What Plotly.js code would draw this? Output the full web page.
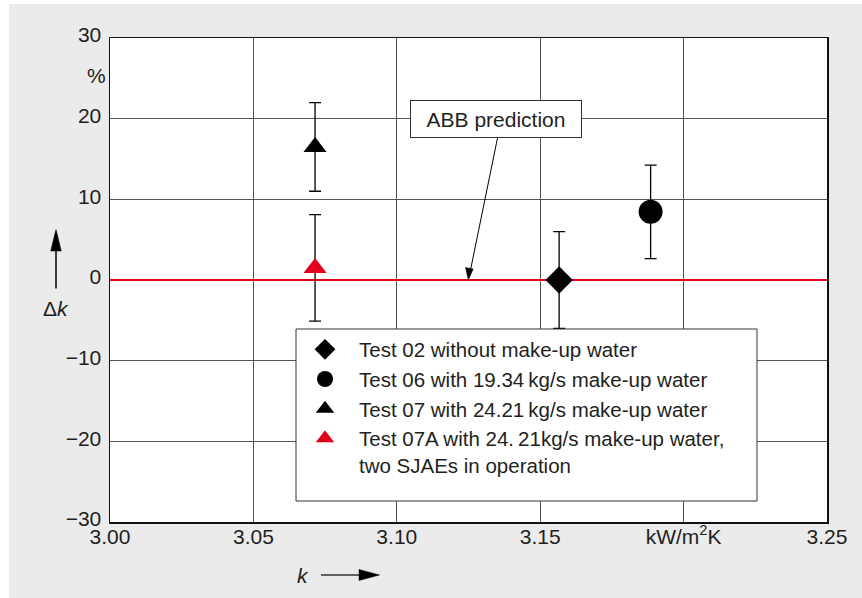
<!DOCTYPE html>
<html>
<head>
<meta charset="utf-8">
<script src="https://cdn.plot.ly/plotly-3.0.1.min.js"></script>
<style>
  html, body { margin: 0; padding: 0; background: #ffffff; }
  #chart { position: absolute; left: 9px; top: 4px; width: 853px; height: 594px; }
</style>
</head>
<body>
<div id="chart"></div>
<script>
// ---- data ----
const seriesNames = [
  'Test 02 without make-up water',
  'Test 06 with 19.34\u2009kg/s make-up water',
  'Test 07 with 24.21\u2009kg/s make-up water',
  'Test 07A with 24.\u200921kg/s make-up water,<br>two SJAEs in operation'
];
const kValues = [3.1566, 3.1885, 3.0715, 3.0715];      // kW/m2K
const dkValues = [0.0, 8.45, 16.5, 1.5];               // %
const dkErrors = [6.0, 5.8, 5.5, 6.6];                 // %
const predictionK = [3.00, 3.25];                      // ABB prediction line extent
const predictionDk = [0, 0];                           // ABB prediction
const xTickVals = [3.00, 3.05, 3.10, 3.15, 3.20, 3.25];
const xTickLabels = ['3.00', '3.05', '3.10', '3.15', 'kW/m<sup>2</sup>K', '3.25'];
const yTickVals = [-30, -20, -10, 0, 10, 20, 30];
const yTickLabels = ['\u221230', '\u221220', '\u221210', '0', '10', '20', '30'];

// ---- styles ----
const RED = '#e2001a';
const markerSymbols = ['diamond', 'circle', 'triangle-up', 'triangle-up'];
const markerColors = ['#000000', '#000000', '#000000', RED];
const markerSizes = [21, 24, 20, 20];
const FONT = '"Liberation Sans", Arial, Helvetica, sans-serif';
const FS = 21;
const LFS = 20.5;
const TXT = '#231f20';

// plot area in page pixels: x 110..827, y 38..522
const PL = 110, PR = 827, PT = 38, PB = 522;
const px = x => (x - PL) / (PR - PL);
const py = y => (PB - y) / (PB - PT);
const P = (x, y) => px(x).toFixed(5) + ',' + py(y).toFixed(5);

const predictionTrace = {
  type: 'scatter', mode: 'lines', name: 'ABB prediction', showlegend: false, hoverinfo: 'skip',
  x: predictionK, y: predictionDk, line: { color: RED, width: 2.2 }, cliponaxis: false
};

const traces = [predictionTrace].concat(seriesNames.map((name, i) => ({
  type: 'scatter',
  mode: 'markers',
  name: name,
  x: [kValues[i]],
  y: [dkValues[i]],
  error_y: { type: 'data', array: [dkErrors[i]], visible: true, color: '#000000', thickness: 1.3, width: 6 },
  marker: { symbol: markerSymbols[i], color: markerColors[i], size: markerSizes[i], line: { width: 0 } },
  cliponaxis: false
})));

const shapes = [
  // legend box
  { type: 'rect', xref: 'paper', yref: 'paper', x0: px(296), x1: px(757), y0: py(501), y1: py(329),
    fillcolor: '#ffffff', line: { color: '#333333', width: 1 }, layer: 'above' },
  // ABB arrow shaft
  { type: 'path', xref: 'paper', yref: 'paper', layer: 'above',
    path: 'M' + P(497.5, 138) + ' L' + P(470.5, 270), line: { color: '#000', width: 1 } },
  // ABB arrow head
  { type: 'path', xref: 'paper', yref: 'paper', layer: 'above',
    path: 'M' + P(468.3, 280) + ' L' + P(465.5, 267.5) + ' L' + P(473.2, 269) + ' Z',
    fillcolor: '#000', line: { color: '#000', width: 0.5 } },
  // up arrow (Δk)
  { type: 'path', xref: 'paper', yref: 'paper', layer: 'above',
    path: 'M' + P(56, 288.5) + ' L' + P(56, 248), line: { color: '#000', width: 1.5 } },
  { type: 'path', xref: 'paper', yref: 'paper', layer: 'above',
    path: 'M' + P(56, 229.5) + ' L' + P(50.7, 251) + ' L' + P(61.3, 251) + ' Z',
    fillcolor: '#000', line: { color: '#000', width: 0.5 } },
  // right arrow (k)
  { type: 'path', xref: 'paper', yref: 'paper', layer: 'above',
    path: 'M' + P(321, 575) + ' L' + P(362, 575), line: { color: '#333', width: 1.5 } },
  { type: 'path', xref: 'paper', yref: 'paper', layer: 'above',
    path: 'M' + P(379.5, 575) + ' L' + P(359, 569.5) + ' L' + P(359, 580.5) + ' Z',
    fillcolor: '#000', line: { color: '#000', width: 0.5 } }
];

const annotations = [
  { xref: 'paper', yref: 'paper', x: px(496), y: py(119), text: 'ABB prediction', showarrow: false,
    xanchor: 'center', yanchor: 'middle', width: 170, height: 36, borderpad: 0,
    bgcolor: '#ffffff', bordercolor: '#333333', borderwidth: 1, font: { family: FONT, size: FS, color: TXT } },
  { xref: 'paper', yref: 'paper', x: px(96), y: py(75), text: '%', showarrow: false,
    xanchor: 'center', yanchor: 'middle', font: { family: FONT, size: FS, color: TXT } },
  { xref: 'paper', yref: 'paper', x: px(56), y: py(308), text: '\u0394<i>k</i>', showarrow: false,
    xanchor: 'center', yanchor: 'middle', font: { family: FONT, size: FS, color: TXT } },
  { xref: 'paper', yref: 'paper', x: px(303), y: py(575), text: '<i>k</i>', showarrow: false,
    xanchor: 'center', yanchor: 'middle', font: { family: FONT, size: FS, color: TXT } }
];

const layout = {
  width: 853, height: 594,
  margin: { l: PL - 9, r: 9 + 853 - PR, t: PT - 4, b: 4 + 594 - PB },
  paper_bgcolor: '#ebebeb',
  plot_bgcolor: '#ffffff',
  font: { family: FONT, size: FS, color: TXT },
  showlegend: true,
  legend: {
    x: px(291), y: py(329.5), xanchor: 'left', yanchor: 'top',
    bgcolor: 'rgba(0,0,0,0)', borderwidth: 0, itemwidth: 58, valign: 'top',
    font: { family: FONT, size: LFS, color: TXT }, tracegroupgap: 0
  },
  xaxis: {
    range: [3.00, 3.25], tickmode: 'array', tickvals: xTickVals, ticktext: xTickLabels,
    showgrid: true, gridcolor: '#555555', gridwidth: 1, zeroline: false,
    showline: true, linecolor: '#111111', linewidth: 1.5, mirror: true, ticks: '',
    ticklabelstandoff: -5,
    tickfont: { family: FONT, size: FS, color: TXT }, fixedrange: true
  },
  yaxis: {
    range: [-30, 30], tickmode: 'array', tickvals: yTickVals, ticktext: yTickLabels,
    showgrid: true, gridcolor: '#555555', gridwidth: 1, zeroline: false,
    showline: true, linecolor: '#111111', linewidth: 1.5, mirror: true, ticks: '',
    ticklabelstandoff: 3, ticklabelshift: -3,
    tickfont: { family: FONT, size: FS, color: TXT }, fixedrange: true
  },
  shapes: shapes,
  annotations: annotations
};

Plotly.newPlot('chart', traces, layout, { displayModeBar: false, staticPlot: true });
</script>
</body>
</html>
